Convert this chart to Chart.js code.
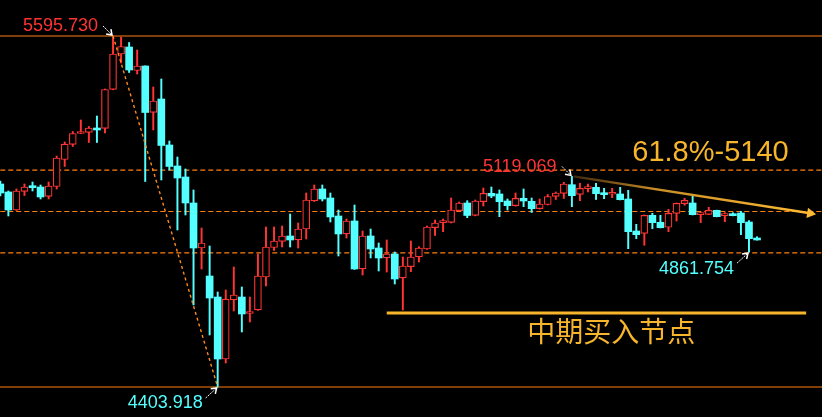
<!DOCTYPE html>
<html lang="zh-CN">
<head>
<meta charset="UTF-8">
<title>K线 - 中期买入节点</title>
<script src="https://cdn.jsdelivr.net/npm/chart.js"></script>
<style>
    html, body { margin: 0; padding: 0; background: #000; }
    .wrap { width: 822px; height: 417px; position: relative; }
</style>
</head>
<body>
<div class="wrap"><canvas id="kline"></canvas></div>
<script>
// K线: 开 高 低 收
const openV = [
    5093.2, 5066.1, 5004.9, 5067.8, 5083.0, 5083.0, 5050.8, 5084.7, 5176.4, 5227.4,
    5264.7, 5268.1, 5281.0, 5281.7, 5414.1, 5534.6, 5558.4, 5478.6, 5493.9, 5336.0,
    5381.8, 5225.7, 5154.3, 5117.0, 5028.7, 4875.9, 4780.8, 4709.5, 4499.0, 4699.4,
    4709.5, 4653.5, 4665.4, 4777.4, 4877.6, 4898.0, 4916.7, 4903.1, 4940.4, 5035.5,
    5076.3, 5045.7, 4984.6, 4923.5, 4967.6, 4804.6, 4916.7, 4875.9, 4842.0, 4855.5,
    4774.1, 4812.4, 4845.4, 4872.5, 4944.8, 4961.8, 4962.5, 5002.6, 5028.7, 4986.3,
    5033.1, 5061.6, 5059.3, 5035.5, 5019.6, 5044.7, 5034.5, 5009.4, 5023.6, 5050.8,
    5061.6, 5090.9, 5057.6, 5077.3, 5082.0, 5062.7, 5058.3, 5059.3, 5042.3, 4933.6,
    4925.8, 4986.9, 4963.2, 4946.2, 4993.7, 5026.3, 5028.7, 4989.0, 4990.3, 5003.9,
    4985.6, 4992.4, 4994.8, 4964.2, 4909.9
];
const highV = [
    5103.4, 5069.5, 5076.3, 5093.2, 5100.0, 5089.8, 5100.0, 5188.3, 5235.8, 5271.5,
    5310.5, 5288.5, 5324.1, 5415.8, 5595.73, 5592.4, 5573.7, 5548.2, 5494.5, 5422.6,
    5449.8, 5239.2, 5184.9, 5144.2, 5072.9, 4943.8, 4882.7, 4726.5, 4733.3, 4811.4,
    4743.5, 4709.5, 4855.5, 4947.2, 4947.2, 4950.6, 4991.4, 4960.8, 5062.7, 5089.8,
    5089.8, 5062.7, 5004.9, 4974.4, 5021.9, 4933.6, 4940.4, 4892.9, 4903.1, 4862.3,
    4845.4, 4899.7, 4880.3, 4950.6, 4971.0, 4974.4, 5045.7, 5032.3, 5036.5, 5038.9,
    5079.6, 5083.0, 5072.9, 5042.3, 5062.7, 5076.3, 5045.7, 5042.3, 5057.6, 5066.1,
    5099.0, 5119.069, 5095.6, 5093.2, 5095.6, 5078.6, 5078.6, 5082.0, 5071.8, 4956.4,
    4988.0, 4993.7, 4986.9, 5007.3, 5028.7, 5044.7, 5054.9, 4996.5, 5014.1, 5004.5,
    4995.8, 4995.8, 5000.5, 4968.6, 4914.3
];
const lowV = [
    5052.5, 4984.6, 5003.0, 5054.2, 5069.5, 5042.3, 5042.3, 5076.3, 5152.7, 5220.6,
    5264.0, 5234.1, 5234.1, 5266.4, 5413.0, 5504.1, 5471.8, 5466.7, 5101.7, 5276.6,
    5106.8, 5140.8, 4937.0, 4988.0, 4682.4, 4804.6, 4580.5, 4403.918, 4485.4, 4662.0,
    4590.7, 4624.6, 4664.0, 4746.9, 4867.4, 4879.3, 4879.3, 4875.9, 4906.5, 5034.0,
    5035.5, 4964.2, 4848.8, 4909.9, 4803.0, 4784.2, 4842.0, 4797.8, 4794.4, 4753.7,
    4665.4, 4795.4, 4828.4, 4871.0, 4918.4, 4931.3, 4961.0, 5001.0, 4978.8, 4985.0,
    5018.5, 5046.7, 4982.2, 5004.9, 5018.0, 5016.2, 4996.5, 5008.0, 5022.0, 5040.6,
    5044.0, 5016.2, 5036.5, 5066.1, 5040.6, 5043.3, 5046.7, 5039.0, 4873.5, 4907.5,
    4885.1, 4941.4, 4944.0, 4931.3, 4967.6, 5020.9, 4988.0, 4961.8, 4989.0, 4981.5,
    4965.2, 4985.0, 4921.1, 4861.754, 4902.5
];
const closeV = [
    5062.7, 5004.9, 5069.5, 5083.0, 5080.7, 5049.1, 5086.4, 5181.5, 5229.0, 5264.7,
    5266.4, 5283.4, 5276.6, 5414.1, 5534.6, 5560.1, 5480.3, 5493.9, 5336.0, 5375.1,
    5224.0, 5152.7, 5113.6, 5028.7, 4875.9, 4892.9, 4706.1, 4499.0, 4702.7, 4716.3,
    4651.8, 4656.9, 4780.8, 4879.3, 4899.7, 4916.7, 4903.1, 4940.4, 5038.9, 5076.3,
    5042.3, 4981.2, 4923.5, 4967.6, 4804.6, 4916.7, 4872.5, 4842.0, 4855.5, 4770.7,
    4814.8, 4845.4, 4875.9, 4947.2, 4960.8, 4965.2, 5004.9, 5028.7, 4986.3, 5035.5,
    5061.6, 5052.5, 5033.1, 5019.6, 5044.7, 5035.5, 5009.4, 5025.3, 5050.8, 5062.7,
    5093.2, 5053.5, 5078.6, 5081.3, 5060.3, 5056.9, 5061.6, 5039.9, 4931.3, 4921.1,
    4986.9, 4961.8, 4944.8, 4993.7, 5027.7, 5037.9, 4989.0, 4995.8, 5003.9, 4982.2,
    4992.4, 4985.6, 4961.8, 4907.5, 4903.1
];

// 高低点和斐波那契回撤位
const swingHigh = { idx: 14, value: 5595.730 };
const swingLow = { idx: 27, value: 4403.918 };
const fibLevels = [5140.46, 4999.82, 4859.18];   // 61.8% / 50% / 38.2%
const localHigh = { idx: 71, value: 5119.069 };
const localLow = { idx: 93, value: 4861.754 };

// 压力趋势线 和 买入线
const trendX = [71.2, 100.6];
const trendY = [5119.069, 4993.7];
const buyLineX = [48.0, 100.1];
const buyLineY = [4655.2, 4655.2];

const upColor = '#ff3434';
const downColor = '#54ffff';
const orange = '#ff7f10';
const gold = '#f7b52c';

const isUp = i => closeV[i] >= openV[i];
const idx = openV.map((_, i) => i);

const wickData = idx.map(i => ({ x: i, y: [lowV[i], highV[i]] }));
const bodyData = idx.map(i => ({ x: i, y: [Math.min(openV[i], closeV[i]), Math.max(openV[i], closeV[i])] }));

function hLine(value, dash, width, color, order) {
    return {
        type: 'line',
        data: [{ x: -1, y: value }, { x: 110, y: value }],
        borderColor: color,
        borderWidth: width,
        borderDash: dash,
        pointRadius: 0,
        fill: false,
        order: order
    };
}

function drawArrow(ctx, x0, y0, x1, y1) {
    const a = Math.atan2(y1 - y0, x1 - x0);
    ctx.strokeStyle = '#ffffff';
    ctx.lineWidth = 1;
    ctx.setLineDash([2, 1]);
    ctx.beginPath();
    ctx.moveTo(x0, y0);
    ctx.lineTo(x1, y1);
    ctx.stroke();
    ctx.setLineDash([]);
    ctx.lineWidth = 1.5;
    ctx.beginPath();
    ctx.moveTo(x1 - 6 * Math.cos(a - 0.6), y1 - 6 * Math.sin(a - 0.6));
    ctx.lineTo(x1, y1);
    ctx.lineTo(x1 - 6 * Math.cos(a + 0.6), y1 - 6 * Math.sin(a + 0.6));
    ctx.stroke();
}

// 价格标注: 文字 + 白色小箭头
const priceNotes = [
    { p: swingHigh, text: '5595.730', color: upColor, ax: -10, ay: -10, tx: -90, ty: -5 },
    { p: swingLow, text: '4403.918', color: downColor, ax: -12, ay: 11, tx: -90, ty: 21 },
    { p: localHigh, text: '5119.069', color: upColor, ax: -10, ay: -10, tx: -89, ty: -4 },
    { p: localLow, text: '4861.754', color: downColor, ax: -12, ay: 11, tx: -90, ty: 22 }
];

const notesPlugin = {
    id: 'notes',
    afterDatasetsDraw(chart) {
        const { ctx, scales: { x, y } } = chart;
        ctx.save();
        priceNotes.forEach(n => {
            const px = x.getPixelForValue(n.p.idx);
            const py = y.getPixelForValue(n.p.value);
            drawArrow(ctx, px + n.ax, py + n.ay, px - 1, py + (n.ay > 0 ? 1 : -1));
            ctx.font = '18px "Liberation Sans", Arial, sans-serif';
            ctx.fillStyle = n.color;
            ctx.textBaseline = 'alphabetic';
            ctx.fillText(n.text, px + n.tx, py + n.ty);
        });

        // 61.8% 标注
        ctx.fillStyle = gold;
        ctx.font = '29px "Liberation Sans", Arial, sans-serif';
        ctx.fillText('61.8%-5140', x.getPixelForValue(78.5), y.getPixelForValue(fibLevels[0]) - 9);

        // 中期买入节点
        ctx.font = '28px "Noto Sans CJK SC", sans-serif';
        ctx.textAlign = 'center';
        ctx.textBaseline = 'middle';
        ctx.fillText('中期买入节点', x.getPixelForValue(75.9), y.getPixelForValue(buyLineY[0]) + 18);
        ctx.restore();
    }
};

const ctx = document.getElementById('kline').getContext('2d');
const chart = new Chart(ctx, {
    type: 'bar',
    data: {
        datasets: [
            {
                // 实体
                data: bodyData,
                grouped: false,
                barThickness: 7,
                minBarLength: 2,
                backgroundColor: idx.map(i => isUp(i) ? '#000000' : downColor),
                borderColor: idx.map(i => isUp(i) ? upColor : downColor),
                borderWidth: idx.map(i => isUp(i) ? 1.2 : 0),
                borderSkipped: false,
                order: 2
            },
            {
                // 影线
                data: wickData,
                grouped: false,
                barThickness: 1.3,
                minBarLength: 1,
                backgroundColor: idx.map(i => isUp(i) ? upColor : downColor),
                borderWidth: 0,
                order: 3
            },
            hLine(swingHigh.value, [], 1.2, orange, 5),
            hLine(swingLow.value, [], 1.2, orange, 5),
            hLine(fibLevels[0], [5, 3], 1.2, orange, 5),
            hLine(fibLevels[1], [5, 3], 1.2, orange, 5),
            hLine(fibLevels[2], [5, 3], 1.2, orange, 5),
            {
                // 高点到低点的虚线
                type: 'line',
                data: [{ x: swingHigh.idx, y: swingHigh.value }, { x: swingLow.idx, y: swingLow.value }],
                borderColor: '#ff8a1c',
                borderWidth: 1.4,
                borderDash: [3, 3],
                pointRadius: 0,
                fill: false,
                order: 1
            },
            {
                // 下降压力线
                type: 'line',
                data: trendX.map((v, i) => ({ x: v, y: trendY[i] })),
                borderColor: function (context) {
                    const c = context.chart;
                    if (!c.chartArea) return gold;
                    const x0 = c.scales.x.getPixelForValue(trendX[0]);
                    const x1 = c.scales.x.getPixelForValue(trendX[1]);
                    const g = c.ctx.createLinearGradient(x0, 0, x1, 0);
                    g.addColorStop(0, 'rgba(70,45,10,0.9)');
                    g.addColorStop(0.35, '#c98e26');
                    g.addColorStop(1, '#ffbb35');
                    return g;
                },
                borderWidth: 2.5,
                pointRadius: [0, 6],
                pointStyle: 'triangle',
                pointRotation: [0, 99],
                pointBackgroundColor: '#ffbb35',
                pointBorderWidth: 0,
                fill: false,
                order: 0
            },
            {
                // 中期买入线
                type: 'line',
                data: buyLineX.map((v, i) => ({ x: v, y: buyLineY[i] })),
                borderColor: gold,
                borderWidth: 3,
                pointRadius: 0,
                fill: false,
                order: 0
            }
        ]
    },
    options: {
        responsive: true,
        maintainAspectRatio: false,
        animation: false,
        layout: { padding: 0, autoPadding: false },
        plugins: {
            legend: { display: false },
            tooltip: { enabled: false }
        },
        scales: {
            x: { type: 'linear', min: -0.04, max: 102.07, offset: false, display: false },
            y: { min: 4302.05, max: 5717.97, display: false }
        }
    },
    plugins: [notesPlugin]
});
</script>
</body>
</html>
